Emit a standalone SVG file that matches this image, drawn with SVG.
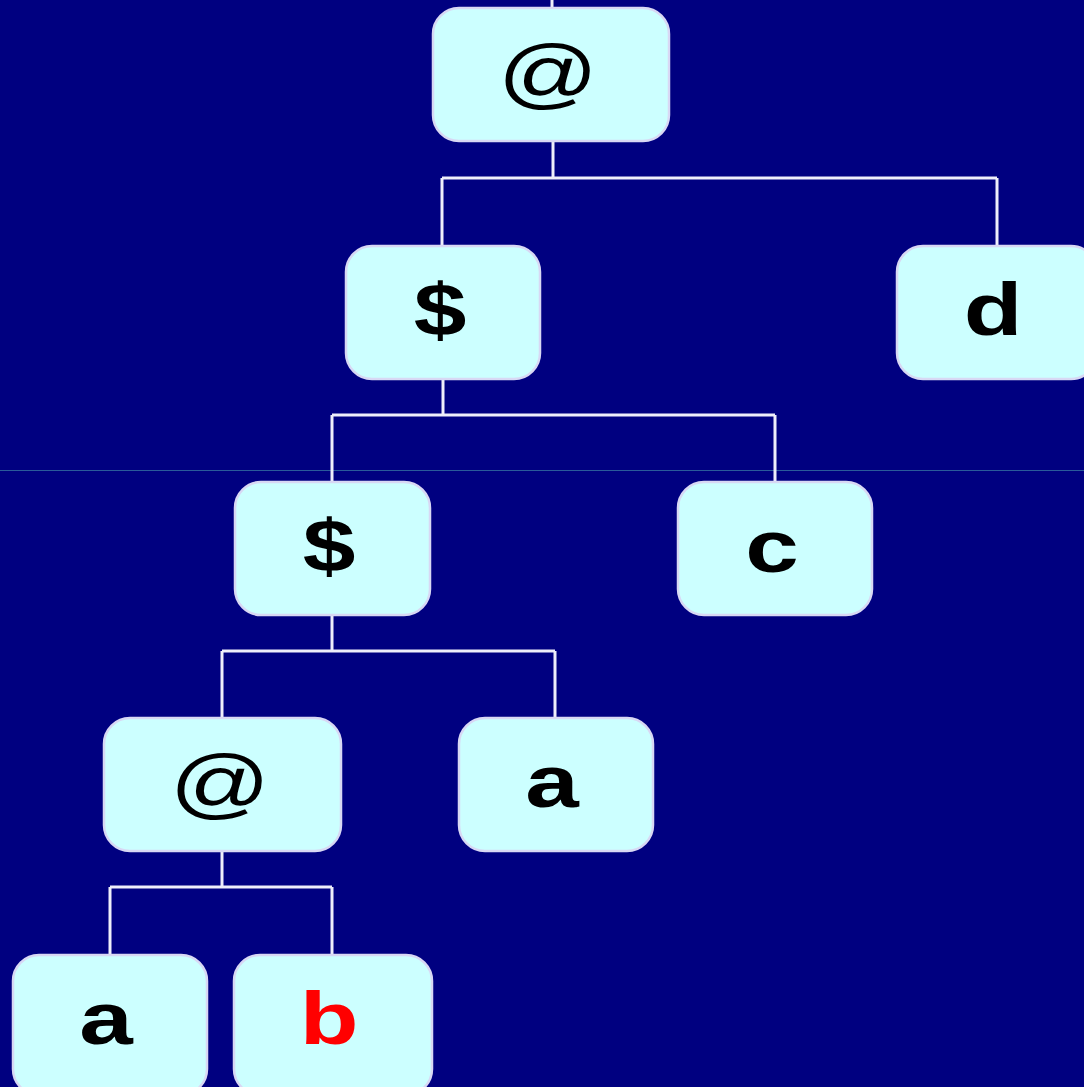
<svg xmlns="http://www.w3.org/2000/svg" width="1084" height="1087" viewBox="0 0 1084 1087">
<style>
.box{fill:#ccffff;stroke:#d8d8f4;stroke-width:2.5}
.t{font-family:"Liberation Sans",Arial,sans-serif;font-weight:bold;font-size:74px;text-anchor:middle;fill:#000}
.at{font-family:"Liberation Sans",Arial,sans-serif;font-size:78px;text-anchor:middle;fill:#000}
.conn{stroke:#eeeefa;stroke-width:3;fill:none}
</style>
<rect width="1084" height="1087" fill="#000080"/>
<line x1="0" y1="470.5" x2="1084" y2="470.5" stroke="#2a5a9a" stroke-width="1"/>
<g id="connectors" class="conn">
<path d="M552 0V8"/>
<path d="M553 141V178M442 178H997M442 178V246M997 178V246"/>
<path d="M443 379V415M332 415H775M332 415V482M775 415V482"/>
<path d="M332 615V651M222 651H555M222 651V718M555 651V718"/>
<path d="M222 851V887M110 887H332M110 887V955M332 887V955"/>
</g>
<g id="n1"><rect class="box" x="433" y="8" width="236" height="133" rx="26"/><text class="at" transform="translate(548 100) scale(1.27 1)">@</text></g>
<g id="n2"><rect class="box" x="346" y="246" width="194" height="133" rx="26"/><text class="t" transform="translate(440 335) scale(1.28 1)">$</text></g>
<g id="n3"><rect class="box" x="897" y="246" width="200" height="133" rx="26"/><text class="t" transform="translate(993 335) scale(1.3 1)">d</text></g>
<g id="n4"><rect class="box" x="235" y="482" width="195" height="133" rx="26"/><text class="t" transform="translate(329 571) scale(1.28 1)">$</text></g>
<g id="n5"><rect class="box" x="678" y="482" width="194" height="133" rx="26"/><text class="t" transform="translate(772 572) scale(1.3 1)">c</text></g>
<g id="n6"><rect class="box" x="104" y="718" width="237" height="133" rx="26"/><text class="at" transform="translate(220 810) scale(1.27 1)">@</text></g>
<g id="n7"><rect class="box" x="459" y="718" width="194" height="133" rx="26"/><text class="t" transform="translate(552 807) scale(1.3 1)">a</text></g>
<g id="n8"><rect class="box" x="13" y="955" width="194" height="140" rx="26"/><text class="t" transform="translate(106 1044) scale(1.3 1)">a</text></g>
<g id="n9"><rect class="box" x="234" y="955" width="198" height="140" rx="26"/><text class="t" transform="translate(329 1044) scale(1.3 1)" style="fill:#ff0000">b</text></g>
</svg>
